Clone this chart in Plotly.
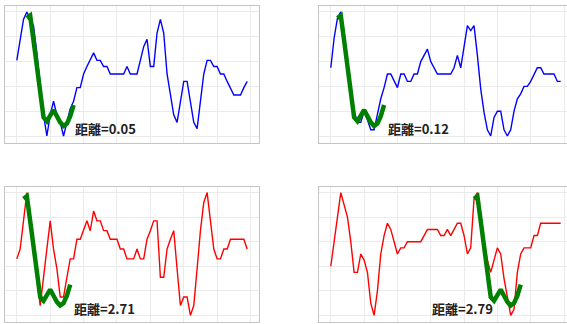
import plotly.graph_objects as go

# Sample index shared by all four series
x_idx = list(range(70))

# Query pattern (normalised), drawn on top of each series at its best-match offset
query = [0.95, 0.97, 0.77, 0.56, 0.35, 0.15, 0.12, 0.17, 0.21, 0.16,
         0.11, 0.08, 0.10, 0.16, 0.25]

# Normalised series (0..1)
series_a = [0.61, 0.78, 0.94, 1.00, 0.94, 0.89, 0.67, 0.39, 0.17, 0.00,
            0.17, 0.28, 0.17, 0.11, 0.00, 0.11, 0.22, 0.28, 0.39, 0.39,
            0.50, 0.56, 0.61, 0.67, 0.61, 0.61, 0.56, 0.56, 0.50, 0.50,
            0.50, 0.50, 0.50, 0.56, 0.50, 0.50, 0.50, 0.61, 0.72, 0.78,
            0.56, 0.56, 0.83, 0.94, 0.83, 0.50, 0.33, 0.17, 0.11, 0.28,
            0.44, 0.44, 0.28, 0.11, 0.06, 0.28, 0.50, 0.61, 0.61, 0.56,
            0.56, 0.50, 0.50, 0.44, 0.39, 0.33, 0.33, 0.33, 0.39, 0.44]

series_b = [0.55, 0.79, 0.95, 1.00, 0.83, 0.60, 0.38, 0.20, 0.11, 0.11,
            0.20, 0.13, 0.05, 0.05, 0.17, 0.30, 0.39, 0.50, 0.50, 0.45,
            0.39, 0.50, 0.50, 0.44, 0.44, 0.50, 0.50, 0.60, 0.65, 0.70,
            0.60, 0.55, 0.50, 0.50, 0.50, 0.50, 0.50, 0.55, 0.65, 0.55,
            0.72, 0.89, 0.85, 0.89, 0.65, 0.38, 0.19, 0.05, 0.00, 0.15,
            0.20, 0.20, 0.05, 0.00, 0.05, 0.20, 0.30, 0.34, 0.40, 0.40,
            0.44, 0.50, 0.55, 0.55, 0.50, 0.50, 0.50, 0.50, 0.44, 0.44]

series_c = [0.46, 0.54, 0.77, 1.00, 0.77, 0.54, 0.31, 0.08, 0.31, 0.54,
            0.77, 0.54, 0.38, 0.15, 0.15, 0.31, 0.46, 0.46, 0.62, 0.62,
            0.69, 0.77, 0.69, 0.85, 0.77, 0.77, 0.69, 0.69, 0.62, 0.62,
            0.62, 0.54, 0.54, 0.46, 0.46, 0.46, 0.54, 0.46, 0.46, 0.62,
            0.69, 0.77, 0.77, 0.31, 0.31, 0.54, 0.62, 0.69, 0.38, 0.08,
            0.15, 0.15, 0.00, 0.08, 0.38, 0.69, 0.92, 1.00, 0.77, 0.54,
            0.46, 0.46, 0.54, 0.54, 0.62, 0.62, 0.62, 0.62, 0.62, 0.54]

series_d = [0.40, 0.60, 0.80, 1.00, 0.90, 0.80, 0.60, 0.35, 0.35, 0.50,
            0.45, 0.35, 0.10, 0.00, 0.20, 0.50, 0.65, 0.75, 0.70, 0.60,
            0.50, 0.55, 0.55, 0.60, 0.60, 0.60, 0.60, 0.60, 0.65, 0.70,
            0.70, 0.70, 0.70, 0.65, 0.65, 0.70, 0.65, 0.70, 0.75, 0.75,
            0.65, 0.50, 0.55, 0.95, 1.00, 0.80, 0.60, 0.45, 0.35, 0.45,
            0.55, 0.50, 0.30, 0.15, 0.00, 0.05, 0.35, 0.50, 0.55, 0.55,
            0.55, 0.65, 0.65, 0.75, 0.75, 0.75, 0.75, 0.75, 0.75, 0.75]

# Best-match offsets of the query and the reported distances
offsets = [3, 2, 2, 43]
distances = [0.05, 0.12, 2.71, 2.79]
label_x = [16.8, 16.5, 16.5, 29.8]
colors = ["#0000ff", "#0000ff", "#ff0000", "#ff0000"]
all_series = [series_a, series_b, series_c, series_d]

W, H = 567, 324
left_dom = [5.3 / W, 258.7 / W]
right_dom = [319.3 / W, 1.0]
top_dom = [1 - 142.7 / H, 1 - 6.0 / H]
bot_dom = [1 - 322.0 / H, 1 - 186.7 / H]
x_domains = [left_dom, right_dom, left_dom, right_dom]
y_domains = [top_dom, top_dom, bot_dom, bot_dom]
x_ranges = [[-3.45, 72.45], [-3.45, 70.9], [-3.45, 72.45], [-3.45, 70.9]]

fig = go.Figure()
layout = dict(
    width=W, height=H,
    margin=dict(l=0, r=0, t=0, b=0),
    paper_bgcolor="white", plot_bgcolor="white",
    showlegend=False,
)

axis_common = dict(
    showgrid=True, gridcolor="#ebebeb", gridwidth=1,
    zeroline=False, showticklabels=False, ticks="",
    showline=True, linecolor="#c4c4c4", linewidth=1, mirror=True,
    fixedrange=True,
)

annotations = []
for k in range(4):
    xa = "x" if k == 0 else f"x{k + 1}"
    ya = "y" if k == 0 else f"y{k + 1}"
    xkey = "xaxis" if k == 0 else f"xaxis{k + 1}"
    ykey = "yaxis" if k == 0 else f"yaxis{k + 1}"

    fig.add_trace(go.Scatter(
        x=x_idx, y=all_series[k], mode="lines",
        line=dict(color=colors[k], width=1.4),
        xaxis=xa, yaxis=ya, hoverinfo="skip",
    ))
    q_x = [offsets[k] + j for j in range(len(query))]
    fig.add_trace(go.Scatter(
        x=q_x, y=query, mode="lines",
        line=dict(color="#008000", width=4.5),
        xaxis=xa, yaxis=ya, hoverinfo="skip",
    ))

    layout[xkey] = dict(axis_common, domain=x_domains[k], range=x_ranges[k],
                        tick0=0, dtick=10, anchor=ya)
    layout[ykey] = dict(axis_common, domain=y_domains[k], range=[-0.054, 1.048],
                        tick0=0, dtick=0.2, anchor=xa)

    annotations.append(dict(
        x=label_x[k], y=0.06, xref=xa, yref=ya,
        text=f"<b>距離={distances[k]:.2f}</b>",
        showarrow=False, xanchor="left", yanchor="middle",
        font=dict(family="Noto Sans CJK JP", size=13, color="#222222"),
    ))

layout["annotations"] = annotations
fig.update_layout(**layout)
fig.write_html("out.html", config={"displayModeBar": False})
